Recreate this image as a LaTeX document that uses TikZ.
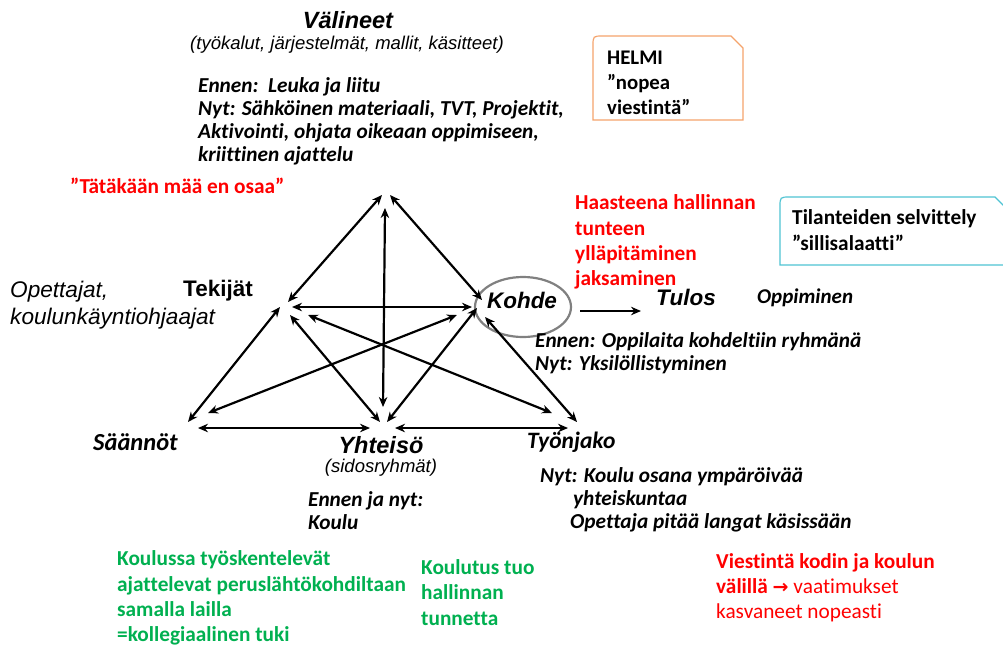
\documentclass[tikz,border=0pt]{standalone}
\usepackage{fontspec}
\setmainfont{Carlito}[Ligatures={NoCommon}]
\newfontfamily\arialf{Liberation Sans}
\newfontfamily\arrowf{DejaVu Sans}
\usetikzlibrary{arrows.meta}
\definecolor{redt}{HTML}{FF0000}
\definecolor{greent}{HTML}{00B050}
\definecolor{orangeb}{HTML}{F4A36C}
\definecolor{cyanb}{HTML}{4EC3D3}
\definecolor{grayc}{HTML}{808080}
\begin{document}
\begin{tikzpicture}[x=1pt,y=-1pt,
  conn/.style={line width=2.2pt,{Stealth[length=10pt,width=8.5pt]}-{Stealth[length=10pt,width=8.5pt]}},
  oneway/.style={line width=2.2pt,-{Stealth[length=10pt,width=8.5pt]}},
  blk/.style={inner sep=0pt,anchor=west,align=left,font=\fontsize{21.3}{23}\selectfont\bfseries\itshape},
  redblk/.style={inner sep=0pt,anchor=west,align=left,text=redt,font=\fontsize{21.3}{25.3}\selectfont\bfseries},
  greenblk/.style={inner sep=0pt,anchor=west,align=left,text=greent,font=\fontsize{21.3}{25.3}\selectfont\bfseries},
  arialbi/.style={inner sep=0pt,font=\arialf\fontsize{22.5}{26}\selectfont\bfseries\itshape},
  arialsub/.style={inner sep=0pt,font=\arialf\fontsize{18.5}{21}\selectfont\itshape},
  calbi/.style={inner sep=0pt,font=\fontsize{23.5}{27}\selectfont\bfseries\itshape}
]
\useasboundingbox (0,0) rectangle (1003,646);
\clip (0,0) rectangle (1003,646);

% ---- callout boxes
\draw[orangeb,line width=1.2pt] (593,120) -- (593,46) .. controls (593,36) .. (603,36) -- (731,36) -- (743,48) -- (743,120) -- cycle;
\node[blk,font=\fontsize{20.8}{25}\selectfont\bfseries] (helmi) at (607,83) {HELMI\\”nopea\\viestintä”};

\draw[cyanb,line width=1.2pt] (780,265) -- (780,207) .. controls (780,197) .. (790,197) -- (995,197) -- (1010,212) -- (1010,265) -- cycle;
\node[blk,font=\fontsize{21.3}{26}\selectfont\bfseries] (tilan) at (792,230) {Tilanteiden selvittely\\”sillisalaatti”};

% ---- top texts
\node[arialbi,font=\arialf\fontsize{23.5}{26}\selectfont\bfseries\itshape] (valineet) at (348,20) {Välineet};
\node[arialsub] (valsub) at (347,45) {(työkalut, järjestelmät, mallit, käsitteet)};
\node[blk] (valtxt) at (198,121) {Ennen:\ \ Leuka ja liitu\\Nyt: Sähköinen materiaali, TVT, Projektit,\\Aktivointi, ohjata oikeaan oppimiseen,\\kriittinen ajattelu};
\node[redblk] (tata) at (70,186) {”Tätäkään mää en osaa”};
\node[redblk] (haaste) at (575,242) {Haasteena hallinnan\\tunteen\\ylläpitäminen\\jaksaminen};

% ---- left texts
\node[inner sep=0pt,anchor=west,align=left,font=\arialf\fontsize{22.6}{27}\selectfont\itshape] (opet) at (10,305) {Opettajat,\\koulunkäyntiohjaajat};
\node[inner sep=0pt,font=\arialf\fontsize{22.5}{26}\selectfont\bfseries] (tekijat) at (218,291) {Tekijät};

% ---- Kohde
\node[arialbi] (kohde) at (522,300) {Kohde};
\draw[grayc,line width=2.2pt] (523,307) ellipse [x radius=48, y radius=30];
\node[arialbi] (tulos) at (686,297) {Tulos};
\node[calbi,font=\fontsize{21}{24}\selectfont\bfseries\itshape,anchor=west] (oppi) at (757,298) {Oppiminen};
\node[blk] (kohtxt) at (535,353.5) {Ennen: Oppilaita kohdeltiin ryhmänä\\Nyt: Yksilöllistyminen};

% ---- bottom vertex labels
\node[calbi,font=\fontsize{24.5}{27}\selectfont\bfseries\itshape,anchor=west] (saannot) at (93,442) {Säännöt};
\node[arialbi,font=\arialf\fontsize{23.5}{26}\selectfont\bfseries\itshape] (yhteiso) at (381,445) {Yhteisö};
\node[arialsub] (sidos) at (381,468) {(sidosryhmät)};
\node[calbi,anchor=west] (tyonjako) at (527,442) {Työnjako};

\node[blk] (yhttxt) at (308,510.5) {Ennen ja nyt:\\Koulu};
\node[blk] (tyo1) at (540,477) {Nyt: Koulu osana ympäröivää};
\node[blk] (tyo2) at (573,500) {yhteiskuntaa};
\node[blk] (tyo3) at (570,523) {Opettaja pitää langat käsissään};

% ---- bottom coloured texts
\node[greenblk] (green1) at (117,598) {Koulussa työskentelevät\\ajattelevat peruslähtökohdiltaan\\samalla lailla\\=kollegiaalinen tuki};
\node[greenblk] (green2) at (421,592.5) {Koulutus tuo\\hallinnan\\tunnetta};
\node[redblk,font=\fontsize{21.3}{25}\selectfont] (viest) at (716,588) {\textbf{Viestintä kodin ja koulun}\\\textbf{välillä} {\arrowf\bfseries\fontsize{19}{19}\selectfont →} vaatimukset\\kasvaneet nopeasti};

% ---- arrow end points
\coordinate (apexL) at (382,195);
\coordinate (apexR) at (390,195);
\coordinate (apexV) at (385,208);
\coordinate (tekA) at (288,302);
\coordinate (tekH) at (292,307);
\coordinate (tekS) at (280,307);
\coordinate (tekY) at (290,315);
\coordinate (tekT) at (308,315);
\coordinate (kohA) at (482,300);
\coordinate (kohH) at (472,307);
\coordinate (kohS) at (457,315);
\coordinate (kohY) at (477,308);
\coordinate (kohT) at (485,317);
\coordinate (saaT) at (188,422);
\coordinate (saaK) at (208,413);
\coordinate (saaY) at (198,428);
\coordinate (yhtV) at (383,407);
\coordinate (yhtT) at (380,422);
\coordinate (yhtK) at (387,422);
\coordinate (yhtS) at (370,428);
\coordinate (yhtR) at (395,428);
\coordinate (tyoL) at (568,428);
\coordinate (tyoT) at (552,413);
\coordinate (tyoK) at (577,422);
\coordinate (kohOut) at (580,311);
\coordinate (tulIn) at (641,311);

\draw[conn] (apexL) -- (tekA);
\draw[conn] (apexR) -- (kohA);
\draw[conn] (apexV) -- (yhtV);
\draw[conn] (tekH) -- (kohH);
\draw[conn] (tekS) -- (saaT);
\draw[conn] (saaK) -- (kohS);
\draw[conn] (tekY) -- (yhtT);
\draw[conn] (tekT) -- (tyoT);
\draw[conn] (kohY) -- (yhtK);
\draw[conn] (kohT) -- (tyoK);
\draw[conn] (saaY) -- (yhtS);
\draw[conn] (yhtR) -- (tyoL);
\draw[oneway] (kohOut) -- (tulIn);
\end{tikzpicture}
\end{document}
